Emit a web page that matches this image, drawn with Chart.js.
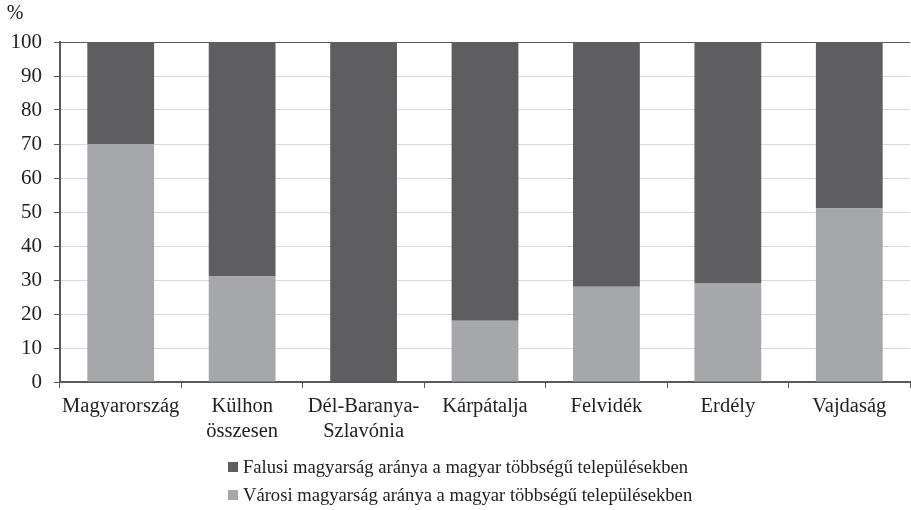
<!DOCTYPE html>
<html>
<head>
<meta charset="utf-8">
<script src="https://cdn.jsdelivr.net/npm/chart.js@4/dist/chart.umd.min.js"></script>
<style>
    html, body { margin: 0; padding: 0; background: #fff; }
    #wrap { position: relative; width: 911px; height: 510px; }
    #legend {
        position: absolute; left: 228px; top: 453px;
        font-family: "Liberation Serif", serif; font-size: 18.6px; color: #222;
    }
    #legend div { height: 28px; line-height: 24px; display: flex; align-items: center; }
    #legend span.box { display: inline-block; width: 10px; height: 10px; margin-right: 5px; }
</style>
</head>
<body>
<div id="wrap">
    <canvas id="chart" width="911" height="510"></canvas>
    <div id="legend"></div>
</div>
<script>
// ======================
// DATA
// ======================
const categories = ["Magyarország", ["Külhon", "összesen"], ["Dél-Baranya-", "Szlavónia"], "Kárpátalja", "Felvidék", "Erdély", "Vajdaság"];
const varosi = [70, 31, 0, 18, 28, 29, 51];
const falusi = [30, 69, 100, 82, 72, 71, 49];
const yTicks = [0, 10, 20, 30, 40, 50, 60, 70, 80, 90, 100];

const seriesNames = [
    "Városi magyarság aránya a magyar többségű településekben",
    "Falusi magyarság aránya a magyar többségű településekben"
];
const colors = ["#a6a7aa", "#5e5e60"];
const axisColor = "#595959";
const gridColor = "#d9d9d9";
const fontFamily = "'Liberation Serif', serif";

// ======================
// "%" LABEL ABOVE Y AXIS
// ======================
const percentLabel = {
    id: "percentLabel",
    afterDraw(chart) {
        const c = chart.ctx;
        c.save();
        c.font = "20px " + fontFamily;
        c.fillStyle = "#222";
        c.textAlign = "center";
        c.textBaseline = "middle";
        c.fillText("%", 15, 14);
        c.restore();
    }
};

const ctx = document.getElementById("chart");

window.mainChart = new Chart(ctx, {
    type: "bar",
    data: {
        labels: categories,
        datasets: [
            { label: seriesNames[0], data: varosi, backgroundColor: colors[0] },
            { label: seriesNames[1], data: falusi, backgroundColor: colors[1] }
        ]
    },
    options: {
        responsive: false,
        animation: false,
        categoryPercentage: 1,
        barPercentage: 0.55,
        layout: { padding: { top: 42, right: 1, bottom: 57, left: 0 } },
        plugins: {
            legend: { display: false },
            tooltip: { enabled: false }
        },
        scales: {
            x: {
                stacked: true,
                offset: true,
                grid: { offset: true, drawOnChartArea: false, tickLength: 6, color: axisColor, lineWidth: 1 },
                border: { color: axisColor, width: 2 },
                ticks: { color: "#222", font: { family: fontFamily, size: 20.5, lineHeight: 1.22 }, padding: 6, maxRotation: 0, autoSkip: false },
                afterFit(scale) { scale.height = 71; }
            },
            y: {
                stacked: true,
                min: 0,
                max: 100,
                afterBuildTicks(scale) { scale.ticks = yTicks.map(v => ({ value: v })); },
                grid: {
                    color: c => c.tick && c.tick.value === 100 ? axisColor : gridColor,
                    tickColor: axisColor,
                    tickLength: 6,
                    lineWidth: 1
                },
                border: { color: axisColor, width: 2 },
                ticks: { color: "#222", font: { family: fontFamily, size: 21 }, padding: 12 },
                afterFit(scale) { scale.width = 60; }
            }
        }
    },
    plugins: [percentLabel]
});

// ======================
// LEGEND (falusi first, as in the original)
// ======================
const legendEl = document.getElementById("legend");
[1, 0].forEach(i => {
    const row = document.createElement("div");
    const box = document.createElement("span");
    box.className = "box";
    box.style.background = colors[i];
    row.appendChild(box);
    row.appendChild(document.createTextNode(seriesNames[i]));
    legendEl.appendChild(row);
});
</script>
</body>
</html>
